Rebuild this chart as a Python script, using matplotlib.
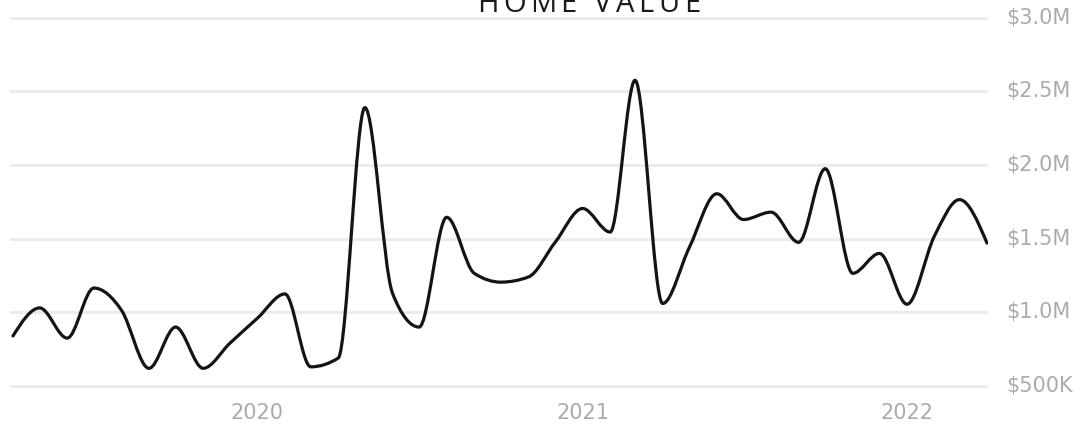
import numpy as np
import matplotlib
matplotlib.use("Agg")
import matplotlib.pyplot as plt
import matplotlib.dates as mdates
import matplotlib.transforms as mtransforms
from matplotlib.path import Path
from matplotlib.patches import PathPatch
import datetime as dt

# ---- data ----
months = [f"{y}-{m:02d}" for y, m in
          [(2019, m) for m in range(4, 13)] + [(2020, m) for m in range(1, 13)] +
          [(2021, m) for m in range(1, 13)] + [(2022, m) for m in range(1, 5)]]
home_value = [0.84, 1.03, 0.825, 1.165, 1.015, 0.62, 0.90, 0.62, 0.79, 0.96,
              1.125, 0.63, 0.69, 2.39, 1.13, 0.90, 1.645, 1.265, 1.205, 1.24,
              1.475, 1.705, 1.545, 2.575, 1.06, 1.44, 1.805, 1.63, 1.68, 1.475,
              1.975, 1.265, 1.40, 1.055, 1.52, 1.765, 1.47]  # millions USD
y_ticks = [0.5, 1.0, 1.5, 2.0, 2.5, 3.0]
y_tick_labels = ["$500K", "$1.0M", "$1.5M", "$2.0M", "$2.5M", "$3.0M"]
x_tick_years = [2020, 2021, 2022]
title = "HOME VALUE"

W, H = 1089, 434
fig = plt.figure(figsize=(W / 100, H / 100), dpi=100)
fig.patch.set_facecolor("white")

# axes placement in pixels
ax_l, ax_r, ax_t, ax_b = 10, 988, 10, 400
ax = fig.add_axes([ax_l / W, 1 - ax_b / H, (ax_r - ax_l) / W, (ax_b - ax_t) / H])
ax.set_facecolor("none")

dates = [dt.datetime.strptime(m + "-01", "%Y-%m-%d") for m in months]
xs = np.array(mdates.date2num(dates), dtype=float)
ys = np.array(home_value, dtype=float)

# pixel mapping: 0.5M at y=386, 3.0M at y=17.7
ppv = (386 - 17.7) / 2.5
def v_at(ypix):
    return 0.5 + (386 - ypix) / ppv
ax.set_ylim(v_at(ax_b), v_at(ax_t))
dpp = (xs[-1] - xs[0]) / (987 - 13)
ax.set_xlim(xs[0] - (13 - ax_l) * dpp, xs[-1] + (ax_r - 987) * dpp)

for s in ax.spines.values():
    s.set_visible(False)
ax.set_xticks([])
ax.set_yticks([])

# gridlines
for v in y_ticks:
    ax.axhline(v, color="#ececec", lw=2.2, zorder=0)

# monotone-x cubic curve (d3 curveMonotoneX style) as bezier path in data coords
def sign(a):
    return -1.0 if a < 0 else 1.0

n = len(xs)
t = np.zeros(n)
for i in range(1, n - 1):
    h0 = xs[i] - xs[i - 1]
    h1 = xs[i + 1] - xs[i]
    s0 = (ys[i] - ys[i - 1]) / h0
    s1 = (ys[i + 1] - ys[i]) / h1
    p = (s0 * h1 + s1 * h0) / (h0 + h1)
    t[i] = (sign(s0) + sign(s1)) * min(abs(s0), abs(s1), 0.5 * abs(p))
h = xs[1] - xs[0]
t[0] = (3 * (ys[1] - ys[0]) / h - t[1]) / 2
h = xs[-1] - xs[-2]
t[-1] = (3 * (ys[-1] - ys[-2]) / h - t[-2]) / 2

verts = [(xs[0], ys[0])]
codes = [Path.MOVETO]
for i in range(n - 1):
    dx = (xs[i + 1] - xs[i]) / 3
    verts += [(xs[i] + dx, ys[i] + dx * t[i]),
              (xs[i + 1] - dx, ys[i + 1] - dx * t[i + 1]),
              (xs[i + 1], ys[i + 1])]
    codes += [Path.CURVE4] * 3
patch = PathPatch(Path(verts, codes), facecolor="none", edgecolor="#141414",
                  lw=2.3, capstyle="round", joinstyle="round", zorder=3)
ax.add_patch(patch)

# tick labels
label_font = dict(family=["DejaVu Sans"], color="#ababab", fontsize=15)
ytrans = mtransforms.blended_transform_factory(fig.transFigure, ax.transData)
for v, lab in zip(y_ticks, y_tick_labels):
    ax.text(1006 / W, v, lab, transform=ytrans, ha="left", va="center", **label_font)

xtrans = mtransforms.blended_transform_factory(ax.transData, fig.transFigure)
for yr in x_tick_years:
    xv = mdates.date2num(dt.datetime(yr, 1, 1))
    ax.text(xv, 1 - 413 / H, str(yr), transform=xtrans,
            ha="center", va="center", **label_font)

# letter-spaced title (top edge touches the figure edge as in the reference)
fig.canvas.draw()
renderer = fig.canvas.get_renderer()
tfont = dict(family=["Open Sans", "DejaVu Sans"], color="#1a1a1a", fontsize=21)
target_w = 223.0
space_w = 9.0
widths = []
for ch in title:
    if ch == " ":
        widths.append(space_w)
        continue
    tt = fig.text(0, 0, ch, **tfont)
    widths.append(tt.get_window_extent(renderer).width)
    tt.remove()
tracking = (target_w - sum(widths)) / (len(title) - 1)
xcur = 588.5 - target_w / 2
for ch, w in zip(title, widths):
    if ch != " ":
        fig.text(xcur / W, 1 - 12 / H, ch, ha="left", va="baseline", **tfont)
    xcur += w + tracking

fig.savefig("out.png", dpi=100, facecolor="white")
